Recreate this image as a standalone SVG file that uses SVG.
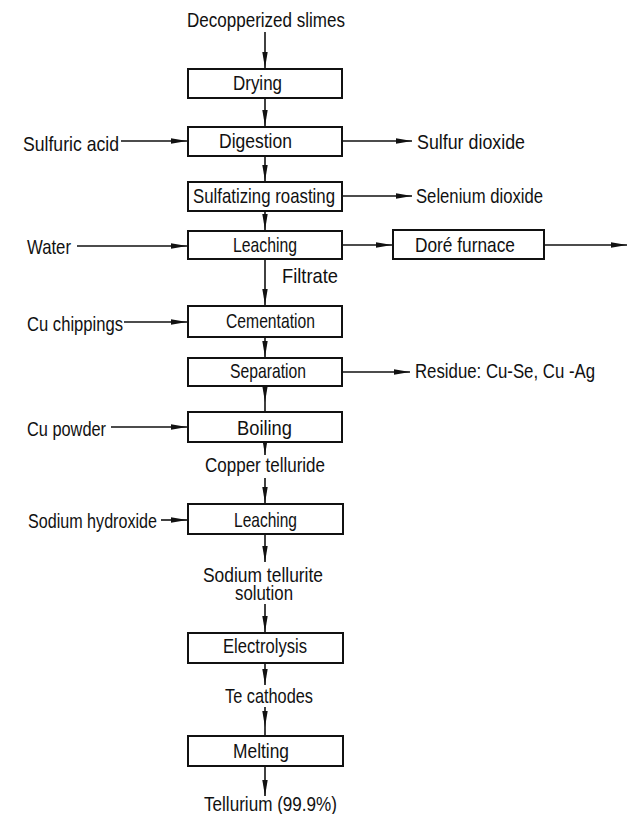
<svg xmlns="http://www.w3.org/2000/svg" width="636" height="814" viewBox="0 0 636 814">
<style>
.box{fill:#fff;stroke:#111;stroke-width:2}
.t{font-family:"Liberation Sans Narrow","Liberation Sans",Arial,sans-serif;font-size:21px;fill:#111}
.c{fill:none;stroke:#111;stroke-width:1.6}
</style>
<defs>
<marker id="ah" markerUnits="userSpaceOnUse" viewBox="0 0 16 6" refX="16" refY="3" markerWidth="16" markerHeight="6" orient="auto">
<path d="M0,0.3 L16,3 L0,5.7 z" fill="#111"/>
</marker>
</defs>
<rect width="636" height="814" fill="#fff"/>
<g id="connectors">
<path class="c" d="M265,32 V68" marker-end="url(#ah)"/>
<path class="c" d="M265,98 V126" marker-end="url(#ah)"/>
<path class="c" d="M265,156 V181" marker-end="url(#ah)"/>
<path class="c" d="M265,211 V230" marker-end="url(#ah)"/>
<path class="c" d="M265,259 V305" marker-end="url(#ah)"/>
<path class="c" d="M265,337 V357" marker-end="url(#ah)"/>
<path class="c" d="M265,386 L265,402 L265,412" marker-mid="url(#ah)"/>
<path class="c" d="M265,442 V455" marker-end="url(#ah)"/>
<path class="c" d="M265,478 V503" marker-end="url(#ah)"/>
<path class="c" d="M265,534 V562" marker-end="url(#ah)"/>
<path class="c" d="M265,604 V632" marker-end="url(#ah)"/>
<path class="c" d="M265,663 V685" marker-end="url(#ah)"/>
<path class="c" d="M265,707 L265,727 L265,736" marker-mid="url(#ah)"/>
<path class="c" d="M265,766 V796" marker-end="url(#ah)"/>
<path class="c" d="M121,141 H187" marker-end="url(#ah)"/>
<path class="c" d="M77,246 H187" marker-end="url(#ah)"/>
<path class="c" d="M124,322 H187" marker-end="url(#ah)"/>
<path class="c" d="M111,427 H187" marker-end="url(#ah)"/>
<path class="c" d="M161,520 H187" marker-end="url(#ah)"/>
<path class="c" d="M342,141 H412" marker-end="url(#ah)"/>
<path class="c" d="M342,196 H412" marker-end="url(#ah)"/>
<path class="c" d="M342,245 H392" marker-end="url(#ah)"/>
<path class="c" d="M544,245 H627" marker-end="url(#ah)"/>
<path class="c" d="M342,372 H410" marker-end="url(#ah)"/>
</g>
<g id="labels">
<text class="t" x="187" y="27" textLength="158" lengthAdjust="spacingAndGlyphs">Decopperized slimes</text>
<text class="t" x="282" y="283" textLength="56" lengthAdjust="spacingAndGlyphs">Filtrate</text>
<text class="t" x="205" y="472" textLength="120" lengthAdjust="spacingAndGlyphs">Copper telluride</text>
<text class="t" x="203" y="582" textLength="120" lengthAdjust="spacingAndGlyphs">Sodium tellurite</text>
<text class="t" x="235" y="600" textLength="58" lengthAdjust="spacingAndGlyphs">solution</text>
<text class="t" x="225" y="703" textLength="88" lengthAdjust="spacingAndGlyphs">Te cathodes</text>
<text class="t" x="204" y="811" textLength="133" lengthAdjust="spacingAndGlyphs">Tellurium (99.9%)</text>
<text class="t" x="23" y="151" textLength="96" lengthAdjust="spacingAndGlyphs">Sulfuric acid</text>
<text class="t" x="27" y="254" textLength="44" lengthAdjust="spacingAndGlyphs">Water</text>
<text class="t" x="27" y="331" textLength="96" lengthAdjust="spacingAndGlyphs">Cu chippings</text>
<text class="t" x="27" y="436" textLength="79" lengthAdjust="spacingAndGlyphs">Cu powder</text>
<text class="t" x="28" y="528" textLength="129" lengthAdjust="spacingAndGlyphs">Sodium hydroxide</text>
<text class="t" x="417" y="149" textLength="108" lengthAdjust="spacingAndGlyphs">Sulfur dioxide</text>
<text class="t" x="416" y="203" textLength="127" lengthAdjust="spacingAndGlyphs">Selenium dioxide</text>
<text class="t" x="415" y="378" textLength="180" lengthAdjust="spacingAndGlyphs">Residue: Cu-Se, Cu -Ag</text>
</g>
<g id="drying"><rect class="box" x="188" y="69" width="154" height="29"/><text class="t" x="233" y="90" textLength="49" lengthAdjust="spacingAndGlyphs">Drying</text></g>
<g id="digestion"><rect class="box" x="188" y="127" width="154" height="29"/><text class="t" x="219" y="148" textLength="73" lengthAdjust="spacingAndGlyphs">Digestion</text></g>
<g id="sulfatizing"><rect class="box" x="188" y="182" width="154" height="29"/><text class="t" x="193" y="203" textLength="142" lengthAdjust="spacingAndGlyphs">Sulfatizing roasting</text></g>
<g id="leaching1"><rect class="box" x="188" y="231" width="154" height="28"/><text class="t" x="233" y="252" textLength="64" lengthAdjust="spacingAndGlyphs">Leaching</text></g>
<g id="dore"><rect class="box" x="393" y="230" width="151" height="29"/><text class="t" x="415" y="252" textLength="100" lengthAdjust="spacingAndGlyphs">Doré furnace</text></g>
<g id="cementation"><rect class="box" x="188" y="306" width="154" height="31"/><text class="t" x="226" y="328" textLength="89" lengthAdjust="spacingAndGlyphs">Cementation</text></g>
<g id="separation"><rect class="box" x="188" y="358" width="154" height="28"/><text class="t" x="230" y="378" textLength="76" lengthAdjust="spacingAndGlyphs">Separation</text></g>
<g id="boiling"><rect class="box" x="188" y="412" width="154" height="30"/><text class="t" x="237" y="435" textLength="55" lengthAdjust="spacingAndGlyphs">Boiling</text></g>
<g id="leaching2"><rect class="box" x="188" y="504" width="155" height="30"/><text class="t" x="234" y="527" textLength="63" lengthAdjust="spacingAndGlyphs">Leaching</text></g>
<g id="electrolysis"><rect class="box" x="188" y="633" width="155" height="30"/><text class="t" x="223" y="653" textLength="84" lengthAdjust="spacingAndGlyphs">Electrolysis</text></g>
<g id="melting"><rect class="box" x="188" y="736" width="155" height="30"/><text class="t" x="233" y="758" textLength="56" lengthAdjust="spacingAndGlyphs">Melting</text></g>
</svg>
